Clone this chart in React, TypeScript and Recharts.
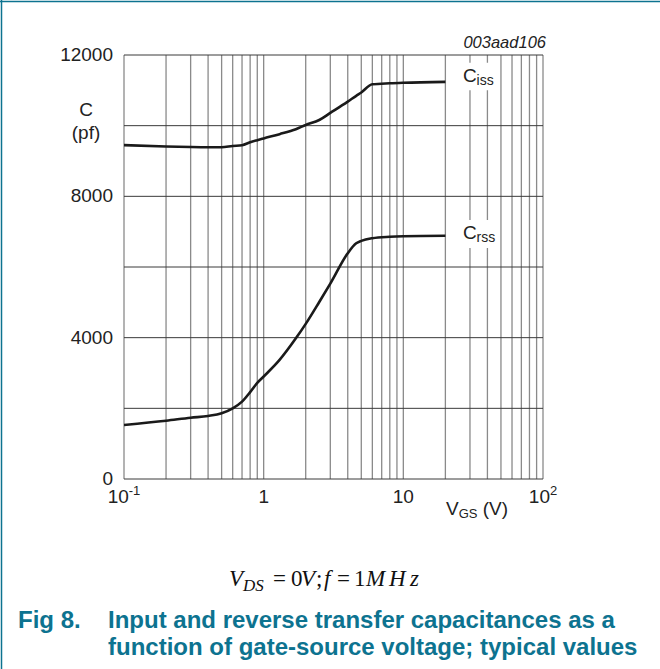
import React from 'react';
import { LineChart, Line, XAxis, YAxis, CartesianGrid, ReferenceArea } from 'recharts';

// gate-source voltage (V) and capacitances (pF)
const VGS = [0.1, 0.2, 0.3, 0.4, 0.5, 0.6, 0.7, 0.8, 0.9, 1, 1.3, 1.7, 2, 2.5, 3, 4, 4.6, 5, 6, 8, 10, 20];
const CISS = [9450, 9410, 9395, 9390, 9390, 9425, 9445, 9530, 9590, 9640, 9760, 9900, 10020, 10160, 10360, 10680, 10845, 10940, 11170, 11200, 11215, 11240];
const CRSS = [1530, 1650, 1735, 1785, 1860, 2000, 2190, 2460, 2720, 2900, 3370, 3980, 4390, 5010, 5530, 6390, 6670, 6740, 6815, 6855, 6870, 6885];

const X_GRID = [
    0.1, 0.2, 0.3, 0.4, 0.5, 0.6, 0.7, 0.8, 0.9,
    1, 2, 3, 4, 5, 6, 7, 8, 9,
    10, 20, 30, 40, 50, 60, 70, 80, 90, 100,
];
const Y_GRID = [0, 2000, 4000, 6000, 8000, 10000, 12000];
const Y_LABELED = [0, 4000, 8000, 12000];
const X_LABELS: Record<string, [string, string]> = {
    '0.1': ['10', '-1'],
    '1': ['1', ''],
    '10': ['10', ''],
    '100': ['10', '2'],
};

const data = VGS.map((v, i) => ({ vgs: v, ciss: CISS[i], crss: CRSS[i] }));

const FONT = '"Liberation Sans", Arial, Helvetica, sans-serif';
const SERIF = '"Liberation Serif", "Times New Roman", serif';
const TEAL = '#0d7390';

const XTick = (props: any) => {
    const { x, y, payload } = props;
    const lbl = X_LABELS[String(payload.value)];
    if (!lbl) return null;
    return (
        <text x={x} y={y + 16} textAnchor="middle" fontFamily={FONT} fontSize={19} fill="#222">
            <tspan>{lbl[0]}</tspan>
            {lbl[1] && <tspan dy={-8} fontSize={13}>{lbl[1]}</tspan>}
        </text>
    );
};

const YTick = (props: any) => {
    const { x, y, payload } = props;
    if (!Y_LABELED.includes(payload.value)) return null;
    return (
        <text x={x - 3} y={y} dy={6} textAnchor="end" fontFamily={FONT} fontSize={19} fill="#222">
            {payload.value}
        </text>
    );
};

const CurveLabel = (props: any) => {
    const { viewBox, sub } = props;
    if (!viewBox) return null;
    return (
        <text x={viewBox.x + 3} y={viewBox.y + 19} fontFamily={FONT} fontSize={19} fill="#222">
            C<tspan dy={3} fontSize={14}>{sub}</tspan>
        </text>
    );
};

export default function App() {
    return (
        <div style={{ position: 'absolute', left: 0, top: 0, width: 660, height: 669, background: '#fff' }}>
            <LineChart
                width={660}
                height={669}
                data={data}
                margin={{ top: 55, right: 117, bottom: 160, left: 64 }}
            >
                <CartesianGrid horizontal={false} stroke="#8a8a8a" strokeWidth={1.3} />
                <CartesianGrid vertical={false} stroke="#3a3a3a" strokeWidth={1} />
                <XAxis
                    dataKey="vgs"
                    type="number"
                    scale="log"
                    domain={[0.1, 100]}
                    ticks={X_GRID}
                    interval={0}
                    allowDataOverflow
                    axisLine={false}
                    tickLine={false}
                    tick={XTick}
                    height={30}
                />
                <YAxis
                    type="number"
                    domain={[0, 12000]}
                    ticks={Y_GRID}
                    interval={0}
                    axisLine={false}
                    tickLine={false}
                    tick={YTick}
                    width={60}
                />
                <ReferenceArea
                    x1={25.4}
                    x2={46}
                    y1={11000}
                    y2={11780}
                    fill="#fff"
                    fillOpacity={1}
                    stroke="none"
                    label={<CurveLabel sub="iss" />}
                />
                <ReferenceArea
                    x1={25.4}
                    x2={46}
                    y1={6540}
                    y2={7330}
                    fill="#fff"
                    fillOpacity={1}
                    stroke="none"
                    label={<CurveLabel sub="rss" />}
                />
                <Line type="monotone" dataKey="ciss" stroke="#1a1a1a" strokeWidth={2.6} dot={false} isAnimationActive={false} />
                <Line type="monotone" dataKey="crss" stroke="#1a1a1a" strokeWidth={2.6} dot={false} isAnimationActive={false} />
            </LineChart>
            <svg width={660} height={669} style={{ position: 'absolute', left: 0, top: 0, pointerEvents: 'none' }}>
                <line x1={0} y1={1.5} x2={660} y2={1.5} stroke={TEAL} strokeWidth={1.5} />
                <line x1={1.5} y1={0} x2={1.5} y2={669} stroke={TEAL} strokeWidth={1.5} />
                <text x={546} y={48} textAnchor="end" fontFamily={FONT} fontStyle="italic" fontSize={16.5} fill="#222">003aad106</text>
                <text x={86} y={116} textAnchor="middle" fontFamily={FONT} fontSize={19} fill="#222">C</text>
                <text x={86} y={139} textAnchor="middle" fontFamily={FONT} fontSize={19} fill="#222">(pf)</text>
                <text x={446} y={515} fontFamily={FONT} fontSize={19} fill="#222">
                    V<tspan dy={3} fontSize={13}>GS</tspan><tspan dy={-3}> (V)</tspan>
                </text>
                <text y={586} fontFamily={SERIF} fontSize={23} fill="#111">
                    <tspan x={229} fontStyle="italic">V</tspan>
                    <tspan x={243} fontStyle="italic" fontSize={17} dy={5}>DS</tspan>
                    <tspan x={273} dy={-5}>=</tspan>
                    <tspan x={291}>0</tspan>
                    <tspan x={301} fontStyle="italic">V</tspan>
                    <tspan x={316}>;</tspan>
                    <tspan x={324} fontStyle="italic">f</tspan>
                    <tspan x={337}>=</tspan>
                    <tspan x={354}>1</tspan>
                    <tspan x={366} fontStyle="italic">M</tspan>
                    <tspan x={389} fontStyle="italic">H</tspan>
                    <tspan x={410} fontStyle="italic">z</tspan>
                </text>
                <text x={18} y={628} fontFamily={FONT} fontWeight="bold" fontSize={24} fill={TEAL}>Fig 8.</text>
                <text x={108} y={628} fontFamily={FONT} fontWeight="bold" fontSize={24} fill={TEAL}>Input and reverse transfer capacitances as a</text>
                <text x={108} y={655} fontFamily={FONT} fontWeight="bold" fontSize={24} fill={TEAL}>function of gate-source voltage; typical values</text>
            </svg>
        </div>
    );
}
